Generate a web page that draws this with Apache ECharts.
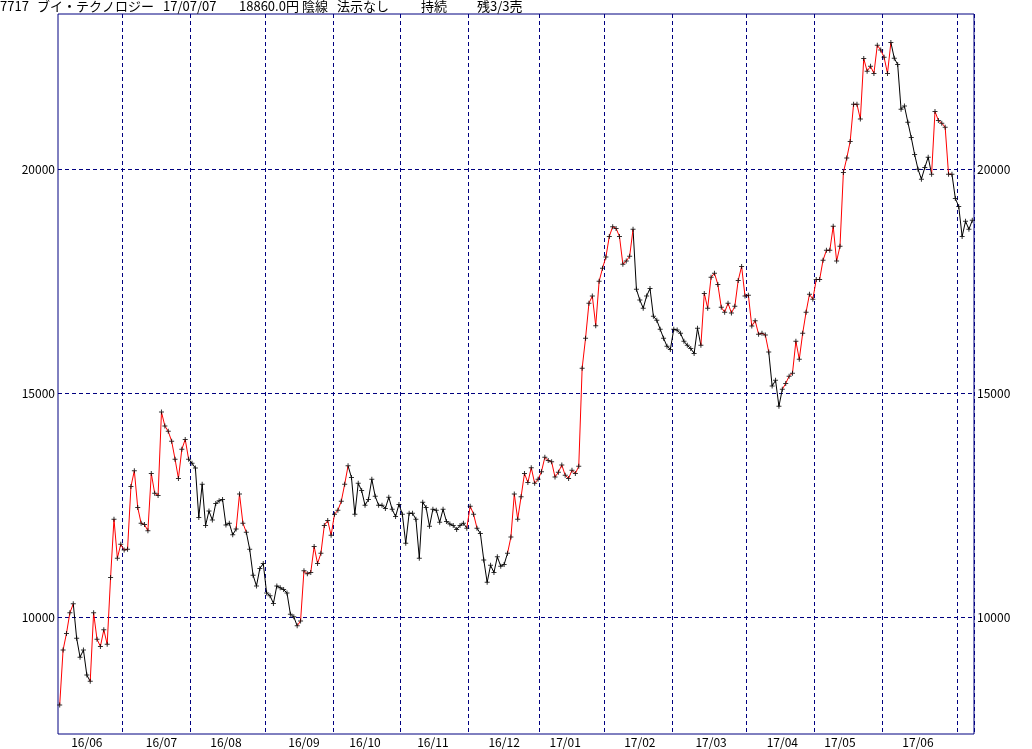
<!DOCTYPE html>
<html>
<head>
<meta charset="utf-8">
<script src="https://cdn.jsdelivr.net/npm/echarts@6/dist/echarts.min.js"></script>
<style>
  html, body { margin: 0; padding: 0; background: #fff; }
  #chart { width: 1032px; height: 749px; }
</style>
</head>
<body>
<div id="chart"></div>
<script>
// daily closes, 2016/06/06 .. 2017/07/07 (270 trading days)
const closes = [
  8040, 9270, 9640, 10100, 10300, 9530, 9110, 9270, 8710, 8570,
  10100, 9510, 9350, 9720, 9400, 10890, 12190, 11320, 11630, 11500,
  11520, 12920, 13270, 12450, 12100, 12070, 11930, 13210, 12770, 12720,
  14580, 14270, 14150, 13930, 13530, 13100, 13750, 13970, 13530, 13440,
  13330, 12230, 12970, 12050, 12370, 12170, 12540, 12600, 12630, 12060,
  12100, 11840, 11970, 12750, 12100, 11900, 11520, 10940, 10700, 11090,
  11200, 10540, 10480, 10310, 10700, 10660, 10620, 10540, 10070, 10010,
  9810, 9920, 11040, 10970, 11000, 11580, 11200, 11430, 12050, 12160,
  11830, 12300, 12390, 12590, 12970, 13380, 13120, 12300, 12990, 12830,
  12500, 12630, 13080, 12700, 12500, 12500, 12430, 12680, 12410, 12250,
  12520, 12300, 11650, 12320, 12320, 12190, 11320, 12570, 12450, 12030,
  12410, 12390, 12120, 12410, 12140, 12080, 12050, 11960, 12050, 12100,
  11990, 12480, 12300, 11990, 11870, 11280, 10780, 11160, 11000, 11350,
  11140, 11180, 11430, 11790, 12750, 12190, 12690, 13210, 13010, 13340,
  12990, 13080, 13250, 13570, 13500, 13470, 13130, 13240, 13400, 13170,
  13100, 13280, 13210, 13370, 15560, 16230, 17010, 17170, 16510, 17500,
  17790, 18040, 18500, 18720, 18680, 18500, 17880, 17950, 18060, 18660,
  17320, 17080, 16900, 17170, 17340, 16720, 16630, 16430, 16230, 16050,
  15980, 16430, 16410, 16340, 16160, 16070, 16000, 15890, 16450, 16070,
  17230, 16900, 17590, 17680, 17430, 16920, 16810, 17010, 16790, 16940,
  17520, 17830, 17170, 17190, 16500, 16620, 16320, 16340, 16300, 15920,
  15160, 15290, 14710, 15090, 15220, 15380, 15450, 16160, 15760, 16340,
  16810, 17210, 17100, 17540, 17540, 17970, 18190, 18190, 18730, 17950,
  18280, 19930, 20250, 20620, 21450, 21450, 21120, 22470, 22190, 22300,
  22140, 22770, 22660, 22500, 22140, 22830, 22480, 22340, 21340, 21410,
  21050, 20710, 20330, 20000, 19780, 20040, 20270, 19890, 21290, 21090,
  21030, 20940, 19890, 19890, 19350, 19170, 18500, 18840, 18660, 18860
];

// stretches (first point, last point) drawn in red; the rest is black
const redRuns = [
  [0, 4], [9, 38], [52, 55], [70, 85], [120, 123],
  [132, 169], [189, 209], [213, 245], [257, 263]
];

// index of the first trading day of each month (vertical dashed lines)
const monthStarts = [19, 39, 61, 81, 101, 121, 142, 161, 181, 203, 223, 243, 265];
// where each month label sits, and its text
const monthLabelIdx = [8, 30, 49, 72, 90, 110, 131, 149, 171, 192, 213, 230, 253];
const monthLabels = ['16/06', '16/07', '16/08', '16/09', '16/10', '16/11', '16/12',
                     '17/01', '17/02', '17/03', '17/04', '17/05', '17/06'];

const titleParts = ['7717', 'ブイ・テクノロジー', '17/07/07', '18860.0円', '陰線', '法示なし', '持続', '残3/3売'];
const titleX = [0, 37, 163, 239, 302, 337, 421, 477];

const FONT = '"Noto Sans CJK JP", "Noto Sans", sans-serif';
const NAVY = '#000080';

const segRed = closes.map(() => false);
redRuns.forEach(([a, b]) => { for (let i = a; i < b; i++) segRed[i] = true; });
const last = closes.length - 1;
const redData = closes.map((v, i) => (segRed[i] && i < last) || (i > 0 && segRed[i - 1]) ? v : null);
const blackData = closes.map((v, i) => (i < last && !segRed[i]) || (i > 0 && !segRed[i - 1]) ? v : null);

const plus = 'path://M2,0H3V2H5V3H3V5H2V3H0V2H2Z';

const yCommon = {
  type: 'value',
  min: 7395,
  max: 23466,
  splitNumber: 3,
  axisLine: {show: false},
  axisTick: {show: false},
  axisLabel: {
    showMinLabel: false, showMaxLabel: false,
    formatter: (v) => String(v),
    color: '#000', fontSize: 12, fontFamily: FONT, margin: 3
  }
};

const chart = echarts.init(document.getElementById('chart'));
chart.setOption({
  animation: false,
  backgroundColor: '#fff',
  grid: {left: 58, right: 58, top: 14, bottom: 15, show: true, borderColor: NAVY, borderWidth: 1},
  graphic: titleParts.map((t, k) => ({
    type: 'text', left: titleX[k], top: 0,
    style: {text: t, fill: '#000', font: '13px ' + FONT}
  })),
  xAxis: {
    type: 'category',
    data: closes.map((_, i) => String(i)),
    boundaryGap: true,
    axisLine: {show: false},
    axisTick: {show: false},
    axisLabel: {
      interval: (i) => monthLabelIdx.includes(i),
      formatter: (v, i) => monthLabels[monthLabelIdx.indexOf(i)] || '',
      color: '#000', fontSize: 12, fontFamily: FONT, margin: 2
    },
    splitLine: {
      show: true,
      interval: (i) => monthStarts.includes(i),
      lineStyle: {color: NAVY, width: 1, type: [4, 3]}
    }
  },
  yAxis: [
    Object.assign({}, yCommon, {
      position: 'left',
      splitLine: {show: true, showMinLine: false, showMaxLine: false, lineStyle: {color: NAVY, width: 1, type: [4, 3]}}
    }),
    Object.assign({}, yCommon, {position: 'right', splitLine: {show: false}})
  ],
  series: [
    {type: 'line', data: blackData, symbol: 'none', connectNulls: false, lineStyle: {color: '#000', width: 1}},
    {type: 'line', data: redData, symbol: 'none', connectNulls: false, lineStyle: {color: '#ff0000', width: 1}},
    {type: 'scatter', data: closes, symbol: plus, symbolSize: 5, itemStyle: {color: '#000'}, z: 5}
  ]
});
</script>
</body>
</html>
